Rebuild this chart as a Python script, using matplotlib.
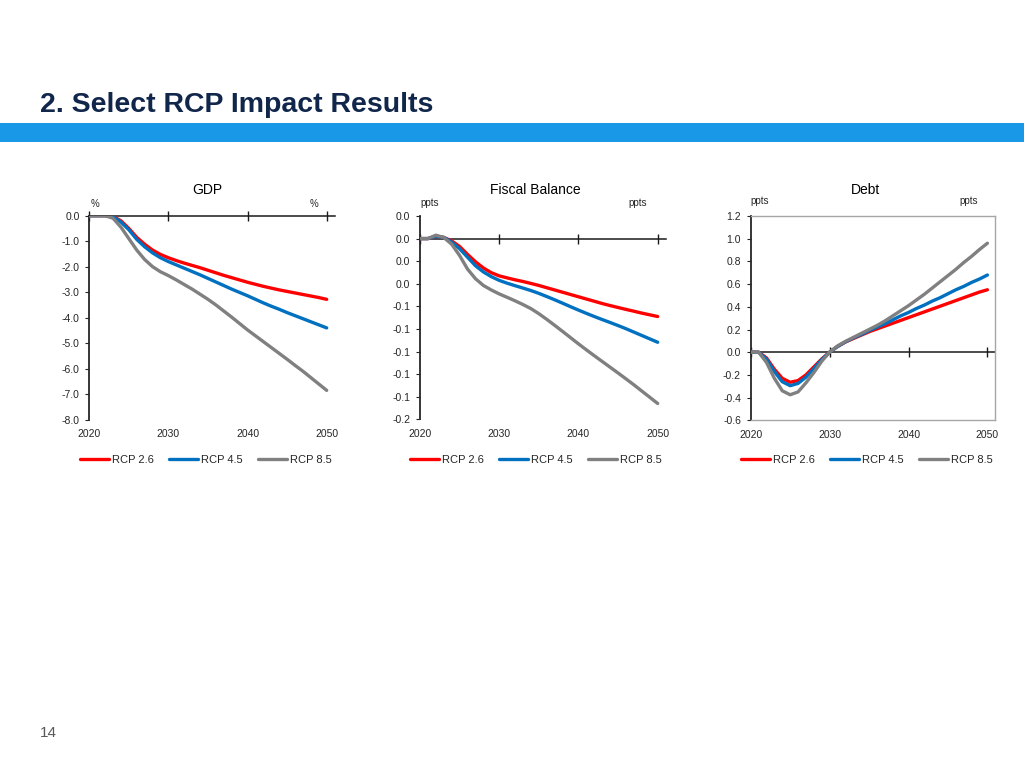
import matplotlib
matplotlib.use('Agg')
import matplotlib.pyplot as plt
from matplotlib.patches import Rectangle

plt.rcParams['font.family'] = ['Liberation Sans', 'DejaVu Sans']

# ---------------- data ----------------
years = list(range(2020, 2051))
series_names = ['RCP 2.6', 'RCP 4.5', 'RCP 8.5']
series_colors = ['#FF0000', '#0070C0', '#808080']
x_tick_years = [2020, 2030, 2040, 2050]
x_tick_labels = ['2020', '2030', '2040', '2050']

gdp_rcp26 = [0, 0, 0, -0.03, -0.2, -0.5, -0.85, -1.12, -1.35, -1.52, -1.65,
             -1.76, -1.86, -1.95, -2.04, -2.14, -2.24, -2.34, -2.43, -2.52, -2.61,
             -2.69, -2.77, -2.84, -2.91, -2.97, -3.03, -3.09, -3.15, -3.21, -3.28]
gdp_rcp45 = [0, 0, 0, -0.04, -0.25, -0.55, -0.93, -1.22, -1.46, -1.65, -1.8,
             -1.93, -2.06, -2.19, -2.32, -2.46, -2.6, -2.74, -2.88, -3.01, -3.14,
             -3.28, -3.42, -3.55, -3.67, -3.8, -3.92, -4.04, -4.16, -4.28, -4.4]
gdp_rcp85 = [0, 0, 0, -0.1, -0.45, -0.9, -1.35, -1.72, -2.0, -2.2, -2.35,
             -2.52, -2.7, -2.88, -3.08, -3.28, -3.5, -3.74, -3.98, -4.23, -4.48,
             -4.71, -4.94, -5.17, -5.4, -5.63, -5.87, -6.1, -6.35, -6.6, -6.85]

fb_rcp26 = [0, 0, 0.002, 0.001, -0.002, -0.007, -0.014, -0.0205, -0.026, -0.0302, -0.033,
            -0.0348, -0.0365, -0.038, -0.0397, -0.0415, -0.0435, -0.0455, -0.0475, -0.0495, -0.0515,
            -0.0535, -0.0555, -0.0575, -0.0593, -0.061, -0.0627, -0.0643, -0.066, -0.0675, -0.069]
fb_rcp45 = [0, 0, 0.002, 0.001, -0.003, -0.009, -0.0165, -0.024, -0.0295, -0.0337, -0.037,
            -0.0395, -0.0417, -0.0438, -0.046, -0.0485, -0.0513, -0.0542, -0.0572, -0.0603, -0.0633,
            -0.0662, -0.069, -0.0717, -0.0743, -0.077, -0.0798, -0.0828, -0.0858, -0.0888, -0.0918]
fb_rcp85 = [0, 0, 0.003, 0.001, -0.005, -0.015, -0.027, -0.0355, -0.0415, -0.0455, -0.049,
            -0.052, -0.0551, -0.0584, -0.062, -0.0665, -0.0715, -0.0768, -0.0822, -0.0877, -0.0932,
            -0.0985, -0.1037, -0.1088, -0.1139, -0.119, -0.1242, -0.1295, -0.135, -0.1405, -0.146]

debt_rcp26 = [0, 0, -0.05, -0.15, -0.23, -0.265, -0.25, -0.2, -0.13, -0.06, 0.0,
              0.05, 0.09, 0.12, 0.15, 0.18, 0.205, 0.23, 0.255, 0.28, 0.305,
              0.33, 0.355, 0.38, 0.405, 0.43, 0.455, 0.48, 0.505, 0.53, 0.55]
debt_rcp45 = [0, 0, -0.06, -0.17, -0.26, -0.295, -0.275, -0.22, -0.145, -0.065, 0.0,
              0.05, 0.09, 0.125, 0.155, 0.19, 0.22, 0.25, 0.285, 0.32, 0.35,
              0.385, 0.415, 0.45, 0.48, 0.515, 0.55, 0.58, 0.615, 0.645, 0.68]
debt_rcp85 = [0, 0, -0.09, -0.23, -0.34, -0.375, -0.35, -0.27, -0.18, -0.08, 0.0,
              0.055, 0.095, 0.13, 0.165, 0.2, 0.235, 0.275, 0.32, 0.365, 0.41,
              0.46, 0.51, 0.565, 0.62, 0.675, 0.73, 0.79, 0.845, 0.905, 0.96]

gdp_yticks = [0, -1, -2, -3, -4, -5, -6, -7, -8]
gdp_ylabels = ['0.0', '-1.0', '-2.0', '-3.0', '-4.0', '-5.0', '-6.0', '-7.0', '-8.0']
fb_yticks = [0.02, 0.0, -0.02, -0.04, -0.06, -0.08, -0.10, -0.12, -0.14, -0.16]
fb_ylabels = ['0.0', '0.0', '0.0', '0.0', '-0.1', '-0.1', '-0.1', '-0.1', '-0.1', '-0.2']
debt_yticks = [1.2, 1.0, 0.8, 0.6, 0.4, 0.2, 0.0, -0.2, -0.4, -0.6]
debt_ylabels = ['1.2', '1.0', '0.8', '0.6', '0.4', '0.2', '0.0', '-0.2', '-0.4', '-0.6']

page_title = '2. Select RCP Impact Results'
page_number = '14'

# ---------------- figure ----------------
W, H = 1024, 768
fig = plt.figure(figsize=(W / 100, H / 100), dpi=100)


def fx(px):
    return px / W


def fy(py):
    return 1 - py / H


# header band and title
fig.patches.append(Rectangle((0, fy(142)), 1, 19 / H, transform=fig.transFigure,
                             facecolor='#1A98E8', edgecolor='none', zorder=0))
fig.text(fx(40), fy(112), page_title, fontsize=20.5, fontweight='bold',
         color='#10264A', ha='left', va='baseline')
fig.text(fx(40), fy(733), page_number, fontsize=11, color='#595959',
         ha='left', va='center')

panels = [
    dict(title='GDP', title_x=207, unit='%', unit_lx=95, unit_rx=314, unit_y=204,
         rect=(89.3, 215.7, 334.6, 419.7), ylim=(-8, 0), yticks=gdp_yticks,
         ylabels=gdp_ylabels, data=[gdp_rcp26, gdp_rcp45, gdp_rcp85],
         leg_x=206, boxed=False),
    dict(title='Fiscal Balance', title_x=535, unit='ppts', unit_lx=430, unit_rx=638,
         unit_y=203, rect=(420, 216, 665.6, 419.3), ylim=(-0.16, 0.02),
         yticks=fb_yticks, ylabels=fb_ylabels, data=[fb_rcp26, fb_rcp45, fb_rcp85],
         leg_x=536, boxed=False),
    dict(title='Debt', title_x=865, unit='ppts', unit_lx=760, unit_rx=969, unit_y=201,
         rect=(750.7, 216, 995.3, 420.3), ylim=(-0.6, 1.2), yticks=debt_yticks,
         ylabels=debt_ylabels, data=[debt_rcp26, debt_rcp45, debt_rcp85],
         leg_x=867, boxed=True),
]

for p in panels:
    l, t, r, b = p['rect']
    ax = fig.add_axes([fx(l), fy(b), (r - l) / W, (b - t) / H])
    for vals, name, col in zip(p['data'], series_names, series_colors):
        ax.plot(years, vals, color=col, lw=2.4, label=name, solid_capstyle='round',
                solid_joinstyle='round', zorder=3)
    ax.set_xlim(2020, 2051)
    ax.set_ylim(*p['ylim'])
    ax.set_yticks(p['yticks'])
    ax.set_yticklabels(p['ylabels'])
    ax.set_xticks(x_tick_years)
    ax.set_xticklabels(x_tick_labels)
    ax.tick_params(axis='x', length=0, pad=7, labelsize=7.5, colors='#262626')
    ax.tick_params(axis='y', direction='out', length=3, width=0.8, pad=4,
                   labelsize=7.5, colors='#262626')
    ax.spines['left'].set_color('#262626')
    ax.spines['left'].set_linewidth(1.3)
    if p['boxed']:
        for s in ['top', 'right', 'bottom']:
            ax.spines[s].set_color('#A6A6A6')
            ax.spines[s].set_linewidth(1.0)
    else:
        for s in ['top', 'right', 'bottom']:
            ax.spines[s].set_visible(False)
    # horizontal zero axis with crossing tick marks
    y0, y1 = p['ylim']
    loc = (0 - y0) / (y1 - y0)
    sec = ax.secondary_xaxis(loc)
    sec.set_xticks(x_tick_years)
    sec.tick_params(axis='x', direction='inout', length=7, width=1.0,
                    labeltop=False, labelbottom=False, colors='#1A1A1A')
    for s in sec.spines.values():
        s.set_color('#1A1A1A')
        s.set_linewidth(1.1)

    fig.text(fx(p['title_x']), fy(190), p['title'], fontsize=10, color='#000000',
             ha='center', va='center')
    fig.text(fx(p['unit_lx']), fy(p['unit_y']), p['unit'], fontsize=7, color='#262626',
             ha='center', va='center')
    fig.text(fx(p['unit_rx']), fy(p['unit_y']), p['unit'], fontsize=7, color='#262626',
             ha='center', va='center')
    ax.legend(loc='center', bbox_to_anchor=(fx(p['leg_x']), fy(460)),
              bbox_transform=fig.transFigure, ncol=3, frameon=False, fontsize=8,
              handlelength=2.6, handletextpad=0.25, columnspacing=1.4,
              labelcolor='#262626')

fig.savefig('out.png', dpi=100)
